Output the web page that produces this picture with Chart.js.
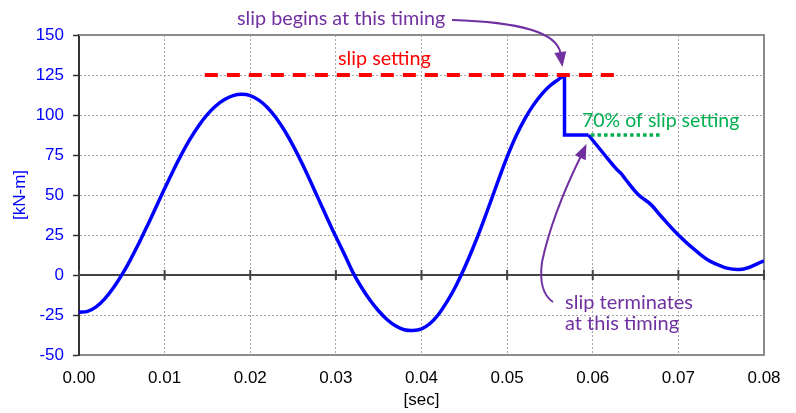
<!DOCTYPE html>
<html>
<head>
<meta charset="utf-8">
<script src="https://cdn.jsdelivr.net/npm/chart.js@4"></script>
<style>
  html, body { margin: 0; padding: 0; background: #fff; }
</style>
</head>
<body>
<canvas id="myChart" width="796" height="413"></canvas>
<script>
// moment [kN-m] against time [sec]

// before slip: rising up to the slip setting
let riseTime = [0, 0.001, 0.002, 0.003, 0.004, 0.005, 0.006, 0.007, 0.008, 0.009,
  0.010, 0.011, 0.012, 0.013, 0.014, 0.015, 0.016, 0.017, 0.018, 0.019,
  0.020, 0.021, 0.022, 0.023, 0.024, 0.025, 0.026, 0.027, 0.028, 0.029,
  0.030, 0.031, 0.032, 0.033, 0.034, 0.035, 0.036, 0.037, 0.038,
  0.039, 0.040, 0.041, 0.042, 0.043, 0.044, 0.045, 0.046, 0.047, 0.048,
  0.049, 0.050, 0.051, 0.052, 0.053, 0.054, 0.055, 0.056, 0.0567];
let riseMoment = [-23.3, -22.7, -19.9, -14.9, -8.1, 0.1, 9.5, 19.9, 31, 42.5,
  54, 65.2, 75.7, 85.2, 93.5, 100.4, 105.8, 109.7, 112.1, 112.9,
  112.1, 109.3, 104.7, 98.3, 90.3, 80.9, 70.3, 58.9, 47.1, 35.3,
  23.9, 12.9, 1.5, -7.8, -15.8, -22.5, -28, -31.9, -34.2,
  -34.7, -33.7, -30.3, -24.5, -16.5, -7, 4.2, 16.7, 30.3, 44.8,
  59.6, 73.8, 86.4, 97, 105.7, 112.8, 118.3, 122.3, 125];

// slip: drop to 70% and hold
let slipTime = [0.0567, 0.0567, 0.0595];
let slipMoment = [125, 87.5, 87.5];

// after slip terminates
let afterTime = [0.0595, 0.0614, 0.0628, 0.0633, 0.0638, 0.0653, 0.0668, 0.0678, 0.0700, 0.0721,
  0.0741, 0.0771, 0.0800];
let afterMoment = [87.5, 75, 66, 63.5, 60, 50.3, 44, 37.8, 25, 14.9,
  7.6, 3.4, 8.8];

// reference lines
let settingTime = [0.0147, 0.0626];
let settingMoment = [125, 125];
let seventyTime = [0.0598, 0.0680];
let seventyMoment = [87.5, 87.5];

let xTicks = [0, 0.01, 0.02, 0.03, 0.04, 0.05, 0.06, 0.07, 0.08];
let yTicks = [-50, -25, 0, 25, 50, 75, 100, 125, 150];

let blue = '#0000ff';
let purple = '#7030a0';

function points(xs, ys) {
  return xs.map((v, i) => ({ x: v, y: ys[i] }));
}

// fit a label to a given width, returns the font size used
function fitLabel(ctx, text, left, cy, width, color, size) {
  if (!size) {
    ctx.font = '20px Lato';
    size = 20 * width / ctx.measureText(text).width;
  }
  ctx.font = size.toFixed(1) + 'px Lato';
  ctx.fillStyle = color;
  ctx.textAlign = 'left';
  ctx.textBaseline = 'middle';
  ctx.fillText(text, left, cy);
  return size;
}

function arrowHead(ctx, fromX, fromY, tipX, tipY, len, half) {
  let dx = tipX - fromX, dy = tipY - fromY;
  let d = Math.sqrt(dx * dx + dy * dy);
  dx /= d; dy /= d;
  let bx = tipX - dx * len, by = tipY - dy * len;
  ctx.beginPath();
  ctx.moveTo(tipX, tipY);
  ctx.lineTo(bx - dy * half, by + dx * half);
  ctx.lineTo(bx + dy * half, by - dx * half);
  ctx.closePath();
  ctx.fill();
}

let decorations = {
  id: 'decorations',
  beforeDatasetsDraw(chart) {
    let { ctx, chartArea: a, scales: { x, y } } = chart;
    ctx.save();
    // top and right frame
    ctx.strokeStyle = '#8c8c8c';
    ctx.lineWidth = 2;
    ctx.beginPath();
    ctx.moveTo(a.left, a.top);
    ctx.lineTo(a.right, a.top);
    ctx.lineTo(a.right, a.bottom);
    ctx.stroke();
    // zero line with its tick marks
    let y0 = y.getPixelForValue(0);
    ctx.strokeStyle = '#444';
    ctx.lineWidth = 2;
    ctx.beginPath();
    ctx.moveTo(a.left, y0);
    ctx.lineTo(a.right, y0);
    xTicks.forEach(v => {
      let px = x.getPixelForValue(v);
      ctx.moveTo(px, y0 - 5);
      ctx.lineTo(px, y0 + 5);
    });
    ctx.stroke();
    ctx.restore();
  },
  afterDraw(chart) {
    let { ctx, scales: { x, y } } = chart;
    ctx.save();

    fitLabel(ctx, 'slip begins at this timing', 237, 19, 208, purple);
    fitLabel(ctx, 'slip setting', 338, 59, 93, '#ff0000');
    fitLabel(ctx, '70% of slip setting', 582, 121, 157, '#00b050');
    let s = fitLabel(ctx, 'slip terminates', 565, 303, 128, purple);
    fitLabel(ctx, 'at this timing', 565, 324, 0, purple, s);

    ctx.strokeStyle = purple;
    ctx.fillStyle = purple;
    ctx.lineWidth = 2;

    // arrow to the start of slip
    let sx = x.getPixelForValue(slipTime[0]) - 2;
    let sy = y.getPixelForValue(slipMoment[0]) - 8;
    ctx.beginPath();
    ctx.moveTo(452, 20);
    ctx.bezierCurveTo(520, 22, sx - 6, 32, sx - 2, sy - 14);
    ctx.stroke();
    arrowHead(ctx, sx - 3, sy - 20, sx, sy, 15, 6);

    // arrow to the end of slip
    let ex = x.getPixelForValue(slipTime[2]) - 2;
    let ey = y.getPixelForValue(slipMoment[2]) + 9;
    ctx.beginPath();
    ctx.moveTo(553, 302);
    ctx.quadraticCurveTo(538, 292, 542, 262);
    ctx.quadraticCurveTo(552, 215, ex - 6, ey + 13);
    ctx.stroke();
    arrowHead(ctx, ex - 10, ey + 22, ex, ey, 15, 6);

    ctx.restore();
  }
};

let tickFont = { family: 'Liberation Sans, Arial, sans-serif', size: 17 };

let config = {
  type: 'line',
  data: {
    datasets: [
      {
        data: points(settingTime, settingMoment),
        borderColor: '#ff0000',
        borderWidth: 4,
        borderDash: [13, 9],
        pointRadius: 0
      },
      {
        data: points(seventyTime, seventyMoment),
        borderColor: '#00b050',
        borderWidth: 3.5,
        borderDash: [3.5, 3],
        pointRadius: 0
      },
      {
        data: points(riseTime, riseMoment),
        borderColor: blue,
        borderWidth: 3.5,
        tension: 0.4,
        pointRadius: 0
      },
      {
        data: points(slipTime, slipMoment),
        borderColor: blue,
        borderWidth: 3.5,
        borderJoinStyle: 'miter',
        pointRadius: 0
      },
      {
        data: points(afterTime, afterMoment),
        borderColor: blue,
        borderWidth: 3.5,
        tension: 0.4,
        pointRadius: 0
      }
    ]
  },
  options: {
    responsive: false,
    animation: false,
    layout: { padding: { left: 0, top: 35, right: 32, bottom: 0 } },
    plugins: {
      legend: { display: false },
      tooltip: { enabled: false }
    },
    scales: {
      x: {
        type: 'linear',
        min: 0,
        max: 0.08,
        afterBuildTicks: s => { s.ticks = xTicks.map(v => ({ value: v })); },
        afterFit: s => { s.height = 58; },
        ticks: {
          color: '#000',
          font: tickFont,
          padding: 13,
          maxRotation: 0,
          callback: v => v.toFixed(2)
        },
        grid: { color: '#a6a6a6', lineWidth: 1, drawTicks: false },
        border: { color: '#8c8c8c', width: 2, dash: [2, 2] },
        title: {
          display: true,
          text: '[sec]',
          color: '#000',
          font: tickFont,
          padding: { top: 0, bottom: 2 }
        }
      },
      y: {
        min: -50,
        max: 150,
        afterBuildTicks: s => { s.ticks = yTicks.map(v => ({ value: v })); },
        afterFit: s => { s.width = 79; },
        ticks: { color: blue, font: tickFont, padding: 9 },
        grid: {
          color: c => (c.tick && c.tick.value === 0) ? 'rgba(0,0,0,0)' : '#a6a6a6',
          lineWidth: 1,
          tickLength: 6,
          tickWidth: 1.5,
          tickColor: '#333'
        },
        border: { color: '#333', width: 2, dash: [2, 2] },
        title: {
          display: true,
          text: '[kN-m]',
          color: blue,
          font: tickFont,
          padding: { top: 10, bottom: 0 }
        }
      }
    }
  },
  plugins: [decorations]
};

const myChart = new Chart(document.getElementById('myChart'), config);
</script>
</body>
</html>
